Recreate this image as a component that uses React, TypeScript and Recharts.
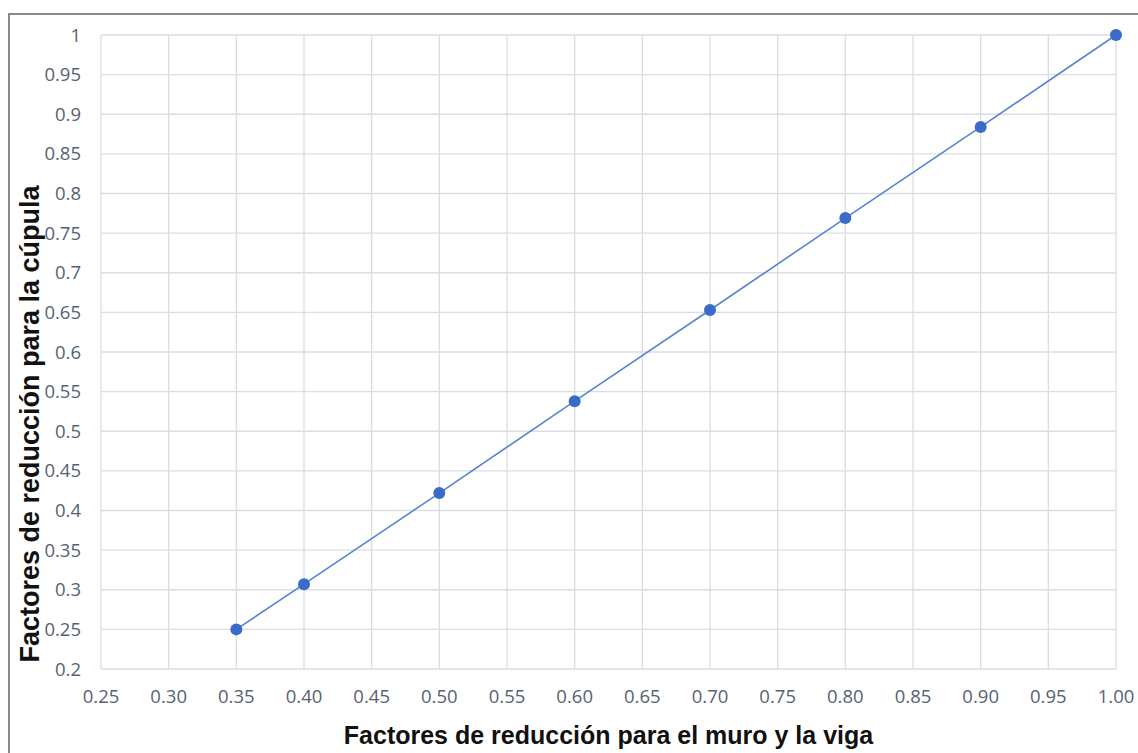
import React from 'react';
import {
  LineChart,
  Line,
  XAxis,
  YAxis,
  CartesianGrid,
  Label,
} from 'recharts';

// values
const muroViga = [0.35, 0.4, 0.5, 0.6, 0.7, 0.8, 0.9, 1.0];
const cupula = [0.25, 0.307, 0.422, 0.538, 0.653, 0.769, 0.884, 1.0];

const xTicks = [0.25, 0.3, 0.35, 0.4, 0.45, 0.5, 0.55, 0.6, 0.65, 0.7, 0.75, 0.8, 0.85, 0.9, 0.95, 1.0];
const yTicks = [0.2, 0.25, 0.3, 0.35, 0.4, 0.45, 0.5, 0.55, 0.6, 0.65, 0.7, 0.75, 0.8, 0.85, 0.9, 0.95, 1];

const xTitle = 'Factores de reducción para el muro y la viga';
const yTitle = 'Factores de reducción para la cúpula';

const data = muroViga.map((x, i) => ({ x, y: cupula[i] }));

const tickStyle = { fill: '#586174', fontSize: 18.5, fontFamily: 'Open Sans' };
const titleFont = 'Liberation Sans, Arial, sans-serif';

const App: React.FC = () => {
  return (
    <div
      style={{
        position: 'absolute',
        left: 8,
        top: 13,
        width: 1130,
        height: 740,
        boxSizing: 'border-box',
        borderTop: '2px solid #8a8a8a',
        borderLeft: '2px solid #8a8a8a',
        overflow: 'hidden',
        background: '#fff',
      }}
    >
      <LineChart
        width={1128}
        height={738}
        data={data}
        margin={{ top: 20, right: 22, bottom: 0, left: 0 }}
      >
        <CartesianGrid stroke="#d9dde6" strokeWidth={1.3} />
        <XAxis
          type="number"
          dataKey="x"
          domain={[0.25, 1]}
          ticks={xTicks}
          tickFormatter={(v: number) => v.toFixed(2)}
          axisLine={false}
          tickLine={false}
          tickSize={0}
          tickMargin={21}
          height={84}
          tick={tickStyle}
          interval={0}
        >
          <Label
            content={({ viewBox }: any) => (
              <text
                x={viewBox.x + viewBox.width / 2}
                y={viewBox.y + 75}
                textAnchor="middle"
                fontFamily={titleFont}
                fontWeight="bold"
                fontSize={25}
                fill="#111"
              >
                {xTitle}
              </text>
            )}
          />
        </XAxis>
        <YAxis
          type="number"
          dataKey="y"
          domain={[0.2, 1]}
          ticks={yTicks}
          tickFormatter={(v: number) => String(+v.toFixed(2))}
          axisLine={false}
          tickLine={false}
          tickSize={0}
          tickMargin={20}
          width={91}
          tick={tickStyle}
          interval={0}
        >
          <Label
            content={() => (
              <text
                x={20}
                y={409}
                transform="rotate(-90, 20, 409)"
                textAnchor="middle"
                dominantBaseline="central"
                fontFamily={titleFont}
                fontWeight="bold"
                fontSize={27}
                fill="#111"
              >
                {yTitle}
              </text>
            )}
          />
        </YAxis>
        <Line
          type="linear"
          dataKey="y"
          stroke="#5584d4"
          strokeWidth={1.6}
          dot={{ r: 6, fill: '#3a6bc8', stroke: '#3a6bc8', strokeWidth: 0 }}
          activeDot={false}
          isAnimationActive={false}
        />
      </LineChart>
    </div>
  );
};

export default App;
